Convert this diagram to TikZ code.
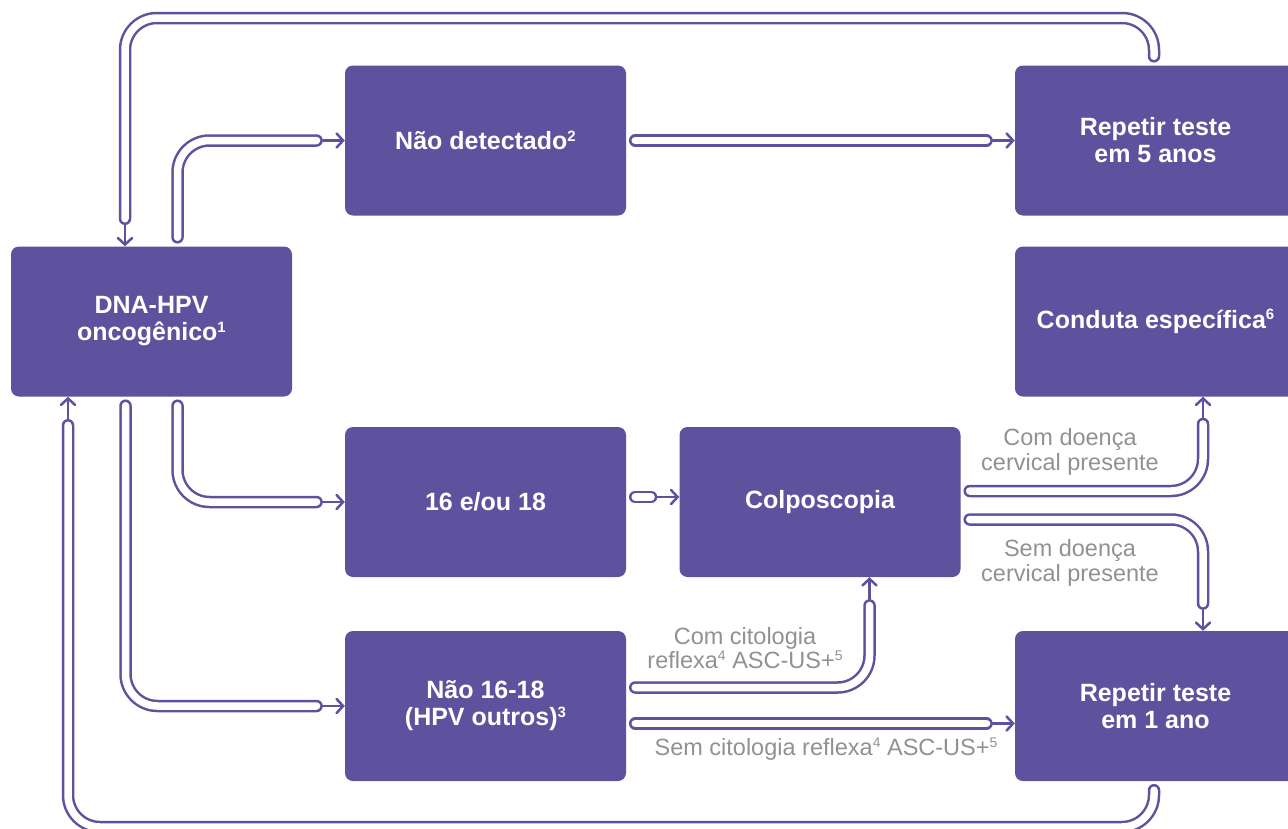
\documentclass[tikz,border=0pt]{standalone}
\usepackage{fontspec}
\setmainfont{Liberation Sans}
\usetikzlibrary{arrows.meta,calc}
\definecolor{hpvpurple}{RGB}{94,82,158}
\definecolor{labelgray}{RGB}{145,145,145}
\newcommand{\sups}[1]{\raisebox{0.65ex}{\fontsize{15}{15}\selectfont #1}}
\newcommand{\lsups}[1]{\raisebox{0.65ex}{\fontsize{14}{14}\selectfont #1}}
\begin{document}
\begin{tikzpicture}[x=1pt,y=-1pt,
  box/.style={fill=hpvpurple,rounded corners=8pt,minimum width=281pt,minimum height=150pt,
    inner sep=0pt,text=white,align=center,font=\fontsize{25}{27}\selectfont\bfseries},
  pipe/.style={draw=hpvpurple,line width=2.5pt,double=white,double distance=7.5pt,
    line cap=round,rounded corners=32pt,shorten <=9pt,shorten >=6.25pt},
  arr/.style={draw=hpvpurple,line width=2.5pt,line cap=round,line join=round,
    -{Straight Barb[length=6.5pt,width=14pt,line cap=round]}},
  lbl/.style={text=labelgray,align=center,inner sep=0pt,
    font=\fontsize{23.5}{24.5}\selectfont}]
\useasboundingbox (0,0) rectangle (1288,828);
\clip (0,0) rectangle (1288,828);

% boxes
\node[box] (dna)   at (151.5,321.5) {DNA-HPV\\oncogênico\sups{1}};
\node[box] (nd)    at (485.5,140.5) {Não detectado\sups{2}};
\node[box] (r5)    at (1155.5,140.5) {Repetir teste\\em 5 anos};
\node[box] (cond)  at (1155.5,321.5) {Conduta específica\sups{6}};
\node[box] (s1618) at (485.5,502) {16 e/ou 18};
\node[box] (colpo) at (820,502) {Colposcopia};
\node[box] (n1618) at (485.5,706) {Não 16-18\\(HPV outros)\sups{3}};
\node[box] (r1)    at (1155.5,706) {Repetir teste\\em 1 ano};

% free ends of the pipes, where the arrow tails begin
\coordinate (e1) at (125,225);
\coordinate (e2) at ($(nd.west)+(-22,0)$);
\coordinate (e3) at ($(r5.west)+(-22,0)$);
\coordinate (e4) at ($(s1618.west)+(-22,0)$);
\coordinate (e5) at ($(n1618.west)+(-22,0)$);
\coordinate (e6) at (68,419);
\coordinate (e7) at ($(colpo.west)+(-22,-5)$);
\coordinate (e8) at ($(cond.south)+(47.5,21)$);
\coordinate (e9) at ($(r1.north)+(47.5,-21)$);
\coordinate (e10) at ($(colpo.south)+(49.5,22)$);
\coordinate (e11) at ($(r1.west)+(-22,17.5)$);

% top loop: repeat in 5 years back to the test
\draw[pipe] ($(r5.north)+(-1.5,0)$) |- (125,18) -- (e1);
\draw[arr] (e1) -- (e1 |- dna.north);

\draw[pipe] ($(dna.north)+(26,0)$) |- (e2);
\draw[arr] (e2) -- (nd.west);

\draw[pipe] (nd.east) -- (e3);
\draw[arr] (e3) -- (r5.west);

\draw[pipe] ($(dna.south)+(26,0)$) |- (e4);
\draw[arr] (e4) -- (s1618.west);

\draw[pipe] ($(dna.south)+(-26,0)$) |- (e5);
\draw[arr] (e5) -- (n1618.west);

% bottom loop: repeat in 1 year back to the test
\draw[pipe] ($(r1.south)+(-1.5,0)$) |- (68,827) -- (e6);
\draw[arr] (e6) -- (e6 |- dna.south);

\draw[pipe] ($(s1618.east)+(0,-5)$) -- (e7);
\draw[arr] (e7) -- (e7 -| colpo.west);

\draw[pipe] ($(colpo.east)+(0,-11)$) -| (e8);
\draw[arr] (e8) -- (e8 |- cond.south);

\draw[pipe] ($(colpo.east)+(0,17.5)$) -| (e9);
\draw[arr] (e9) -- (e9 |- r1.north);

\draw[pipe] ($(n1618.east)+(0,-18.5)$) -| (e10);
\draw[arr] (e10) -- (e10 |- colpo.south);

\draw[pipe] ($(n1618.east)+(0,17.5)$) -- (e11);
\draw[arr] (e11) -- (e11 -| r1.west);

% branch labels
\node[lbl] (l1) at (1070,452) {Com doença\\cervical presente};
\node[lbl] (l2) at (1070,563) {Sem doença\\cervical presente};
\node[lbl] (l3) at (745,648) {Com citologia\\reflexa\lsups{4} ASC-US+\lsups{5}};
\node[lbl] (l4) at (826,749.5) {Sem citologia reflexa\lsups{4} ASC-US+\lsups{5}};
\end{tikzpicture}
\end{document}
